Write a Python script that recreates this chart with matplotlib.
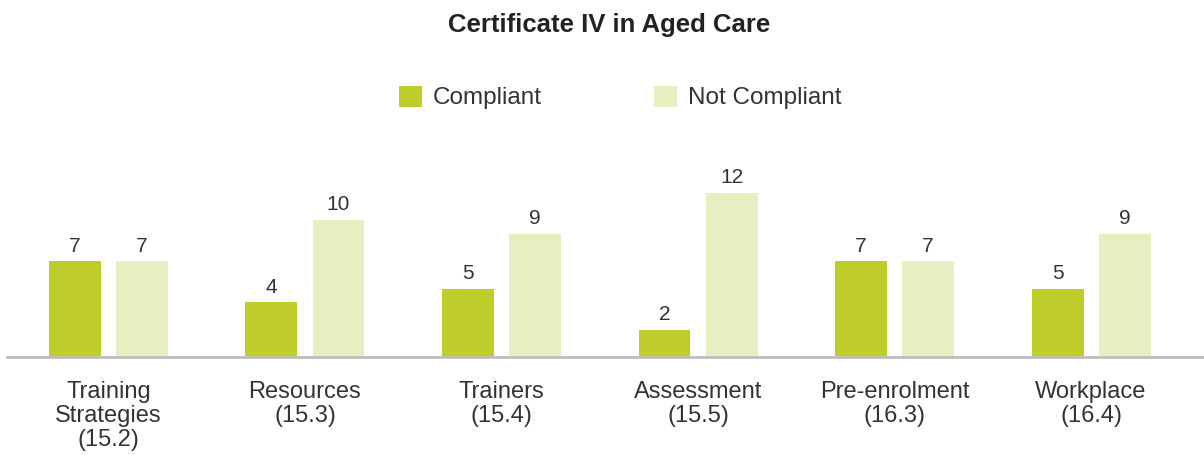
import matplotlib.pyplot as plt
import numpy as np

# data
categories = ["Training\nStrategies\n(15.2)", "Resources\n(15.3)", "Trainers\n(15.4)",
              "Assessment\n(15.5)", "Pre-enrolment\n(16.3)", "Workplace\n(16.4)"]
compliant = [7, 4, 5, 2, 7, 5]
not_compliant = [7, 10, 9, 12, 7, 9]

green = "#bfcd2a"
pale = "#e8edc2"
txt = "#333333"

plt.rcParams['font.family'] = ['Liberation Sans', 'DejaVu Sans']

fig = plt.figure(figsize=(12.04, 4.55), dpi=100)
ax = fig.add_axes([7 / 1204, 1 - 357 / 455, 1 - 7 / 1204, 207 / 455])

x = np.arange(len(categories))
w = 0.2646
off = 0.1705
b1 = ax.bar(x - off, compliant, w, color=green, label="Compliant")
b2 = ax.bar(x + off, not_compliant, w, color=pale, label="Not Compliant")

ax.bar_label(b1, padding=4, fontsize=15, color=txt)
ax.bar_label(b2, padding=4, fontsize=15, color=txt)

ax.set_xlim(-0.5165, 5.575)
ax.set_ylim(0, 207 / 13.7)

ax.set_xticks(x)
ax.set_xticklabels(categories, fontsize=17, color=txt, linespacing=1.12)
ax.tick_params(axis='x', length=0, pad=17)
ax.set_yticks([])

for s in ["top", "right", "left"]:
    ax.spines[s].set_visible(False)
ax.spines["bottom"].set_color("#bdbdbd")
ax.spines["bottom"].set_linewidth(2)

fig.text(0.506, 1 - 25 / 455, "Certificate IV in Aged Care", ha="center", va="center",
         fontsize=18.5, fontweight="bold", color="#222222")

fig.legend(handles=[b1, b2], loc="center", bbox_to_anchor=(620 / 1204, 1 - 97.5 / 455),
           ncol=2, frameon=False, fontsize=17.5, handlelength=0.95, handleheight=0.95,
           handletextpad=0.45, columnspacing=4.6, labelcolor=txt)

fig.savefig("out.png", dpi=100)
